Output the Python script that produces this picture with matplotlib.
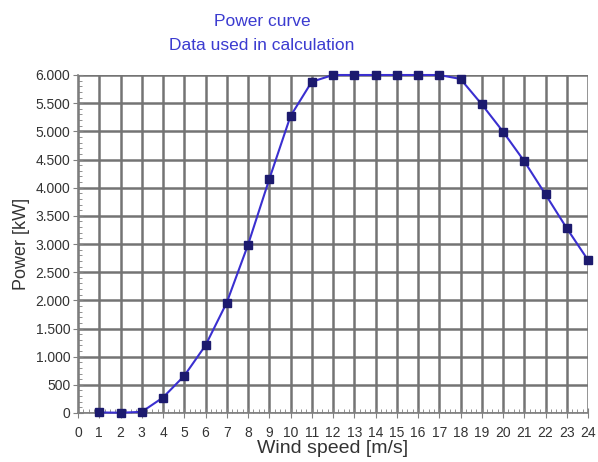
import matplotlib
matplotlib.use("Agg")
import matplotlib.pyplot as plt
from matplotlib.ticker import MultipleLocator, FuncFormatter

wind_speed = [1, 2, 3, 4, 5, 6, 7, 8, 9, 10, 11, 12, 13, 14, 15, 16, 17, 18, 19, 20, 21, 22, 23, 24]
power_kw = [10, 5, 20, 275, 660, 1200, 1960, 2985, 4150, 5270, 5880, 6000, 6000, 6000, 6000, 6000,
            6000, 5930, 5480, 4995, 4470, 3880, 3280, 2715]

plt.rcParams['font.family'] = ['Liberation Sans', 'DejaVu Sans']

fig = plt.figure(figsize=(5.98, 4.62), dpi=100)
ax = fig.add_axes([78/598, 1-413/462, (588-78)/598, (413-75)/462])

ax.plot(wind_speed, power_kw, color='#3a2fd0', lw=1.5, zorder=3, clip_on=False)
ax.plot(wind_speed, power_kw, ls='none', marker='s', ms=6, color='#1c1a6e', zorder=4, clip_on=False)

ax.set_xlim(0, 24)
ax.set_ylim(0, 6000)
ax.xaxis.set_major_locator(MultipleLocator(1))
ax.xaxis.set_minor_locator(MultipleLocator(0.25))
ax.yaxis.set_major_locator(MultipleLocator(500))
ax.yaxis.set_minor_locator(MultipleLocator(100))
ax.yaxis.set_major_formatter(FuncFormatter(lambda v, p: f"{int(v):,}".replace(",", ".")))

ax.grid(True, which='major', color='#747474', lw=1.8)
ax.set_axisbelow(True)
for s in ['top', 'right']:
    ax.spines[s].set_visible(False)
for s in ['left', 'bottom']:
    ax.spines[s].set_color('#808080')
    ax.spines[s].set_linewidth(1.2)

ax.tick_params(which='major', direction='inout', length=7, color='#808080', labelsize=10, labelcolor='#333333', pad=2)
ax.tick_params(axis='x', which='major', pad=6)
ax.tick_params(which='minor', direction='in', length=3, color='#808080')

ax.set_xlabel('Wind speed [m/s]', fontsize=14, color='#333333', labelpad=0)
ax.set_ylabel('Power [kW]', fontsize=13, color='#333333', labelpad=4)

fig.text(262/598, 1 - 22/462, 'Power curve', ha='center', va='center', fontsize=12.5, color='#3b3bd0')
fig.text(262/598, 1 - 46/462, 'Data used in calculation', ha='center', va='center', fontsize=12.5, color='#3b3bd0')

fig.savefig('out.png', dpi=100)
